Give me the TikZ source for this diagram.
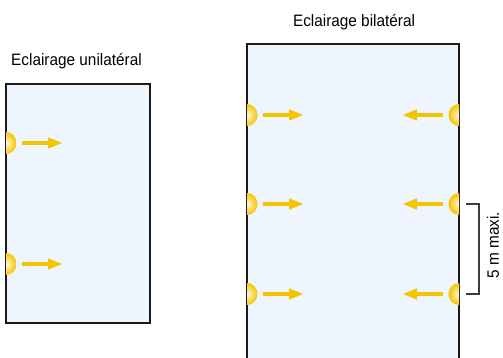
\documentclass[tikz,border=0pt]{standalone}
\usepackage{fontspec}
\setmainfont[FakeStretch=0.93]{Liberation Sans}
\usetikzlibrary{arrows.meta,calc}
\definecolor{roomfill}{HTML}{EEF5FC}
\definecolor{wallcol}{HTML}{1A1A1A}
\definecolor{lampyel}{HTML}{F5C400}
\definecolor{lampin}{HTML}{FFF8E0}
\tikzset{
  x=1pt,y=-1pt,
  room/.style={fill=roomfill,draw=wallcol,line width=2pt},
  lightarrow/.style={draw=lampyel,line width=4pt,-{Triangle[width=10pt,length=15pt]}},
  titletext/.style={font=\fontsize{16.5}{18}\selectfont,anchor=base,inner sep=0pt},
  bracketline/.style={draw=wallcol!85,line width=1.2pt},
  lampshade/.style={inner color=lampin,outer color=lampyel},
}
\newcommand{\lampL}[1]{\begin{scope}\clip ($(#1)+(0,-12)$) rectangle ($(#1)+(12,12)$);\shade[lampshade] (#1) ellipse[x radius=10.5,y radius=11];\end{scope}}
\newcommand{\lampR}[1]{\begin{scope}\clip ($(#1)+(0,-12)$) rectangle ($(#1)+(-12,12)$);\shade[lampshade] (#1) ellipse[x radius=10.5,y radius=11];\end{scope}}
\begin{document}
\begin{tikzpicture}
\useasboundingbox (0,0) rectangle (503,358);
% titles
\node[titletext] (t1) at (76.5,66) {Eclairage unilatéral};
\node[titletext] (t2) at (354,27) {Eclairage bilatéral};
% left room
\draw[room] (6,84) rectangle (150,323);
% right room
\begin{scope}
\clip (0,0) rectangle (503,358);
\fill[roomfill] (247,44) rectangle (459,370);
\draw[wallcol,line width=2pt] (247,370) -- (247,44) -- (459,44) -- (459,370);
\end{scope}
% lamps positions
\coordinate (L1) at (6,143);
\coordinate (L2) at (6,264);
\coordinate (R1) at (247,115);
\coordinate (R2) at (247,204);
\coordinate (R3) at (247,294);
\coordinate (S1) at (459,115);
\coordinate (S2) at (459,204);
\coordinate (S3) at (459,294);
\foreach \p in {L1,L2,R1,R2,R3} {\lampL{\p}}
\foreach \p in {S1,S2,S3} {\lampR{\p}}
% arrows
\foreach \p in {L1,L2,R1,R2,R3} {\draw[lightarrow] ($(\p)+(16,0)$) -- ($(\p)+(57,0)$);}
\foreach \p in {S1,S2,S3} {\draw[lightarrow] ($(\p)+(-16,0)$) -- ($(\p)+(-57,0)$);}
% bracket
\coordinate (b1) at (466,204);
\coordinate (b2) at (466,294);
\draw[bracketline] (b1) -- ++(13,0) |- (b2);
\node[font=\fontsize{16.5}{18}\selectfont,rotate=90,inner sep=0pt] (dim) at (493,245) {5 m maxi.};
\end{tikzpicture}
\end{document}
